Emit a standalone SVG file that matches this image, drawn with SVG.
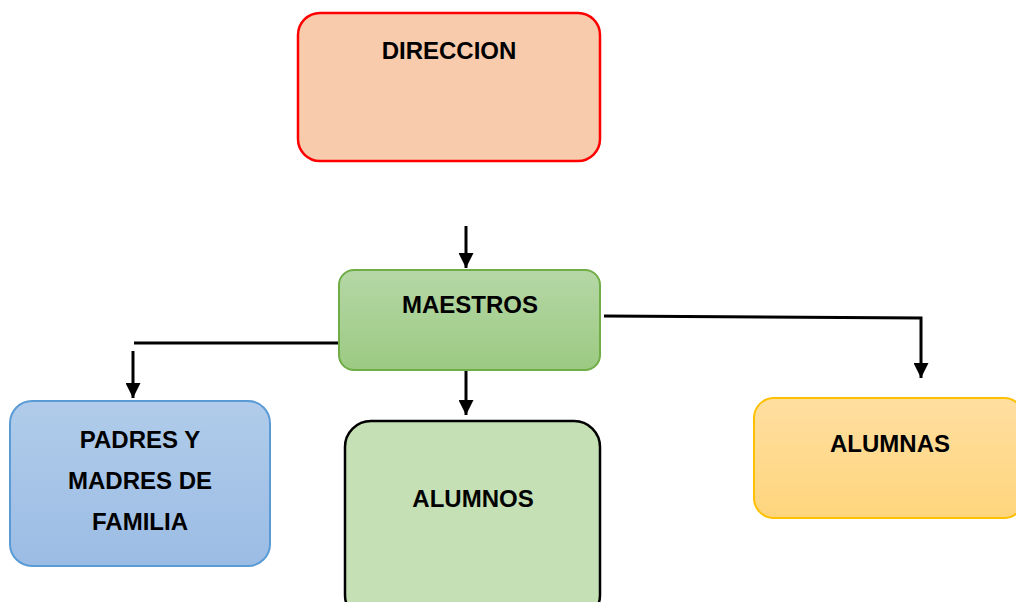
<svg xmlns="http://www.w3.org/2000/svg" width="1016" height="602" viewBox="0 0 1016 602">
<defs>
<linearGradient id="gGreen" x1="0" y1="0" x2="0" y2="1"><stop offset="0" stop-color="#B5D7A6"/><stop offset="1" stop-color="#9CCA82"/></linearGradient>
<linearGradient id="gBlue" x1="0" y1="0" x2="0" y2="1"><stop offset="0" stop-color="#B1CCEA"/><stop offset="1" stop-color="#9BBCE4"/></linearGradient>
<linearGradient id="gYellow" x1="0" y1="0" x2="0" y2="1"><stop offset="0" stop-color="#FFDFA0"/><stop offset="1" stop-color="#FFD57D"/></linearGradient>
<marker id="arr" markerWidth="5" markerHeight="5" refX="5" refY="2.5" orient="auto" markerUnits="strokeWidth">
<path d="M0,0 L5,2.5 L0,5 Z" fill="#000"/>
</marker>
<style>
text{font-family:"Liberation Sans",Arial,sans-serif;font-weight:bold;font-size:24px;fill:#000;text-anchor:middle}
.c{fill:none;stroke:#000;stroke-width:3}
</style>
</defs>
<rect width="1016" height="602" fill="#fff"/>
<g id="connectors">
<line class="c" x1="466" y1="226" x2="466" y2="268" marker-end="url(#arr)"/>
<line class="c" x1="466" y1="370" x2="466" y2="415" marker-end="url(#arr)"/>
<line class="c" x1="134" y1="343" x2="338" y2="343"/>
<line class="c" x1="133" y1="351" x2="133" y2="398" marker-end="url(#arr)"/>
<polyline class="c" points="604,316 921,318 921,378" marker-end="url(#arr)"/>
</g>
<g id="direccion">
<rect x="298" y="13" width="302" height="148" rx="22" fill="#F8CBAD" stroke="#FF0000" stroke-width="2.5"/>
<text x="449" y="59">DIRECCION</text>
</g>
<g id="maestros">
<rect x="339" y="270" width="261" height="100" rx="15" fill="url(#gGreen)" stroke="#70AD47" stroke-width="2"/>
<text x="470" y="313">MAESTROS</text>
</g>
<g id="padres">
<rect x="10" y="401" width="260" height="165" rx="22" fill="url(#gBlue)" stroke="#5B9BD5" stroke-width="2"/>
<text x="140" y="448">PADRES Y</text>
<text x="140" y="489">MADRES DE</text>
<text x="140" y="530">FAMILIA</text>
</g>
<g id="alumnos">
<rect x="345" y="421" width="255" height="200" rx="26" fill="#C5E0B4" stroke="#000" stroke-width="2.5"/>
<text x="473" y="507">ALUMNOS</text>
</g>
<g id="alumnas">
<rect x="754" y="398" width="270" height="120" rx="20" fill="url(#gYellow)" stroke="#FFC000" stroke-width="2"/>
<text x="890" y="452">ALUMNAS</text>
</g>
</svg>
